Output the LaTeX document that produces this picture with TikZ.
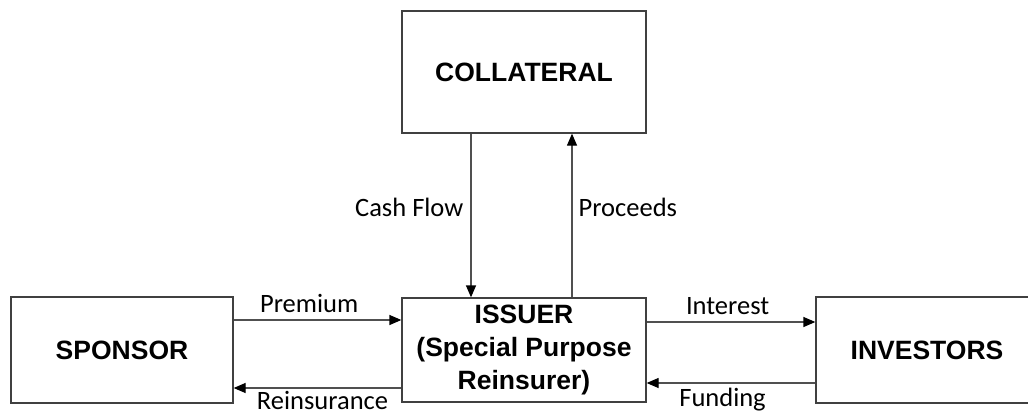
\documentclass[tikz,border=0pt]{standalone}
\usepackage{fontspec}
\setmainfont{Carlito}
\newfontfamily\boxfont{Liberation Sans}
\usetikzlibrary{arrows.meta}
\definecolor{boxline}{RGB}{64,64,64}
\definecolor{arrline}{RGB}{80,80,80}
\tikzset{
    party/.style={draw=boxline, line width=1.3pt, rectangle, align=center,
        font=\boxfont\bfseries\fontsize{26.5}{33}\selectfont, inner sep=0pt},
    flow/.style={draw=arrline, line width=1.3pt, -{Triangle[length=12pt,width=10pt,color=black]}},
    lbl/.style={font=\fontsize{26.5}{30}\selectfont, inner sep=0pt}
}
\begin{document}
\begin{tikzpicture}[x=1pt,y=1pt]
    \useasboundingbox (0,0) rectangle (1028,416);
    \clip (0,0) rectangle (1028,416);

    \node[party, minimum width=222, minimum height=106] (sponsor) at (122,66) {SPONSOR};
    \node[party, minimum width=244, minimum height=104] (issuer) at (524,66) {ISSUER\\(Special Purpose\\Reinsurer)};
    \node[party, minimum width=222, minimum height=106] (investors) at (927,66) {INVESTORS};
    \node[party, minimum width=244, minimum height=122] (collateral) at (524,344) {COLLATERAL};

    % sponsor <-> issuer
    \draw[flow] ([yshift=30]sponsor.east) -- ([yshift=30]sponsor.east -| issuer.west)
        node[lbl, pos=0.45, above=7pt] {Premium};
    \draw[flow] ([yshift=-38]issuer.west) -- ([yshift=-38]issuer.west -| sponsor.east)
        node[lbl, pos=0.47, below=3pt] {Reinsurance};

    % issuer <-> investors
    \draw[flow] ([yshift=28]issuer.east) -- ([yshift=28]issuer.east -| investors.west)
        node[lbl, pos=0.48, above=7pt] {Interest};
    \draw[flow] ([yshift=-33]investors.west) -- ([yshift=-33]investors.west -| issuer.east)
        node[lbl, pos=0.55, below=4pt] {Funding};

    % collateral <-> issuer
    \draw[flow] ([xshift=-53]collateral.south) -- ([xshift=-53]collateral.south |- issuer.north)
        node[lbl, pos=0.45, left=7pt] {Cash Flow};
    \draw[flow] ([xshift=48]issuer.north) -- ([xshift=48]issuer.north |- collateral.south)
        node[lbl, pos=0.55, right=6pt] {Proceeds};
\end{tikzpicture}
\end{document}
